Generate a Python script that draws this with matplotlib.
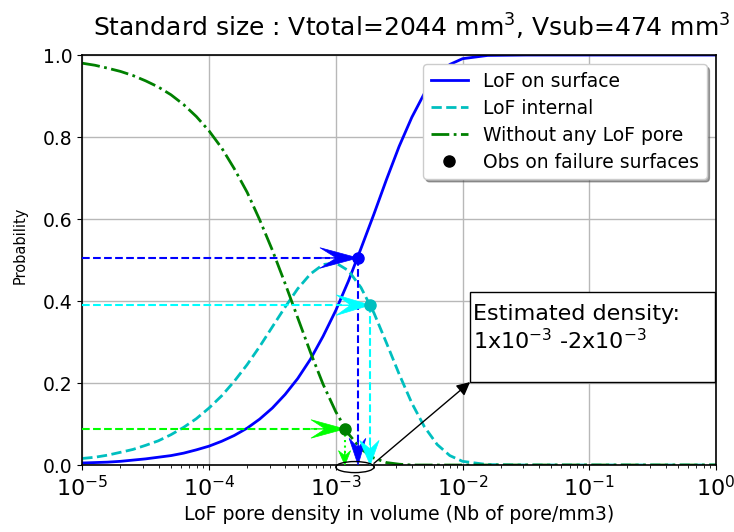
import numpy as np
import matplotlib
matplotlib.use("Agg")
import matplotlib.pyplot as plt
from matplotlib.patches import Ellipse, Rectangle

# LoF pore density (Nb of pore / mm3) and read-off probabilities
density = [1.0e-5, 1.26e-5, 1.58e-5, 2.0e-5, 2.51e-5, 3.16e-5, 3.98e-5, 5.01e-5, 6.31e-5, 7.94e-5,
           1.0e-4, 1.26e-4, 1.58e-4, 2.0e-4, 2.51e-4, 3.16e-4, 3.98e-4, 5.01e-4, 6.31e-4, 7.94e-4,
           1.0e-3, 1.26e-3, 1.58e-3, 2.0e-3, 2.51e-3, 3.16e-3, 3.98e-3, 5.01e-3, 6.31e-3, 7.94e-3,
           1.0e-2, 1.58e-2, 3.16e-2, 1.0e-1, 1.0]

p_surface = [0.005, 0.006, 0.007, 0.009, 0.012, 0.015, 0.019, 0.023, 0.029, 0.037,
             0.046, 0.058, 0.072, 0.090, 0.112, 0.139, 0.172, 0.211, 0.258, 0.314,
             0.377, 0.449, 0.528, 0.612, 0.696, 0.777, 0.848, 0.907, 0.950, 0.977,
             0.991, 0.999, 1.0, 1.0, 1.0]

p_internal = [0.016, 0.019, 0.024, 0.031, 0.038, 0.048, 0.059, 0.074, 0.092, 0.113,
              0.139, 0.169, 0.204, 0.245, 0.289, 0.337, 0.385, 0.430, 0.466, 0.489,
              0.493, 0.474, 0.433, 0.371, 0.298, 0.222, 0.151, 0.093, 0.050, 0.023,
              0.009, 0.001, 0.0, 0.0, 0.0]

p_none = [0.980, 0.975, 0.968, 0.960, 0.950, 0.937, 0.922, 0.903, 0.879, 0.850,
          0.815, 0.773, 0.723, 0.665, 0.598, 0.524, 0.443, 0.359, 0.275, 0.197,
          0.130, 0.076, 0.039, 0.017, 0.006, 0.002, 0.0, 0.0, 0.0, 0.0,
          0.0, 0.0, 0.0, 0.0, 0.0]

# observations on failure surfaces (surface, internal, none)
obs_density = [1.5e-3, 1.87e-3, 1.18e-3]
obs_prob = [0.505, 0.39, 0.088]

# estimated density range
est_range = [1.0e-3, 2.0e-3]

title = "Standard size : Vtotal=2044 mm$^3$, Vsub=474 mm$^3$"

fig = plt.figure(figsize=(7.34, 5.32), dpi=100)
ax = fig.add_axes([0.1121, 0.1259, 0.8634, 0.7707])

ax.plot(density, p_surface, 'b-', lw=2, label='LoF on surface')
ax.plot(density, p_internal, 'c--', lw=2, label='LoF internal')
ax.plot(density, p_none, 'g-.', lw=2, label='Without any LoF pore')
ax.plot([], [], 'ko', ms=8, label='Obs on failure surfaces')

ax.set_xscale('log')
ax.set_xlim(1e-5, 1)
ax.set_ylim(0, 1)

# arrows from the axis to each observation, then down to the x axis
point_colors = ['b', 'c', 'g']
arrow_colors = ['b', 'cyan', 'lime']
vert_styles = ['--', '--', ':']
h_head = [(0.5, 0.05), (0.46, 0.05), (0.46, 0.045)]
v_head = [(0.065, 0.3), (0.06, 0.35), (0.035, 0.22)]

for i in range(len(obs_density)):
    x = obs_density[i]
    y = obs_prob[i]
    ca = arrow_colors[i]
    ax.plot([1e-5, x * 0.6], [y, y], ls='--', color=ca, lw=1.5, zorder=3)
    hl = h_head[i][0] * x
    ax.arrow(x - hl, y, hl, 0, width=0, head_width=h_head[i][1], head_length=hl,
             length_includes_head=True, overhang=0.35, color=ca, lw=0.5, zorder=4)
    vl = v_head[i][0]
    ax.plot([x, x], [y, vl * 0.5], ls=vert_styles[i], color=ca, lw=1.5, zorder=3)
    ax.arrow(x, vl, 0, -vl, width=0, head_width=v_head[i][1] * x, head_length=vl,
             length_includes_head=True, overhang=0.35, color=ca, lw=0.5, zorder=4)
    ax.plot(x, y, 'o', color=point_colors[i], ms=8, zorder=5)

# ellipse around the estimated range, in axes coordinates
to_axes = ax.transAxes.inverted()
p0 = to_axes.transform(ax.transData.transform((est_range[0], 0)))
p1 = to_axes.transform(ax.transData.transform((est_range[1], 0)))
ell = Ellipse(((p0[0] + p1[0]) / 2, -0.005), p1[0] - p0[0], 0.027,
              transform=ax.transAxes, fill=False, ec='k', lw=1, clip_on=False, zorder=6)
ax.add_patch(ell)

box_x, box_y, box_w, box_h = 0.612, 0.2024, 0.386, 0.22
rect = Rectangle((box_x, box_y), box_w, box_h, transform=ax.transAxes, fc='white',
                 ec='k', lw=1, clip_on=False, zorder=7)
ax.add_patch(rect)
ax.text(box_x + 0.005, box_y + box_h - 0.03, 'Estimated density:\n1x10$^{-3}$ -2x10$^{-3}$',
        transform=ax.transAxes, fontsize=16, va='top', ha='left', zorder=8)
ax.annotate('', xy=(box_x, box_y), xycoords='axes fraction',
            xytext=(p1[0], 0.004), textcoords='axes fraction',
            arrowprops=dict(arrowstyle='-|>', color='k', lw=1, mutation_scale=20,
                            shrinkA=0, shrinkB=0), zorder=8)

ax.grid(True, color='#b8b8b8', lw=1)
ax.set_axisbelow(True)
for s in ax.spines.values():
    s.set_linewidth(1.2)
ax.tick_params(axis='x', labelsize=16)
ax.tick_params(axis='y', labelsize=13.5)
ax.set_xlabel('LoF pore density in volume (Nb of pore/mm3)', fontsize=13.6)
ax.set_ylabel('Probability', fontsize=10.5)
ax.yaxis.set_label_coords(-0.087, 0.535)
ax.set_title(title, fontsize=18, x=0.52, pad=13)
ax.legend(loc='upper right', shadow=True, fontsize=13.5, framealpha=1, labelspacing=0.42)

fig.savefig('out.png', dpi=100)
